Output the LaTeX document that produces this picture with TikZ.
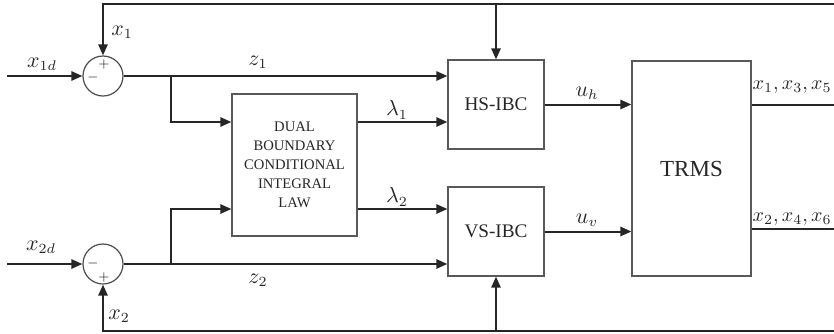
\documentclass[tikz,border=0pt]{standalone}
\usepackage{fontspec}
\setmainfont{Liberation Serif}
\usetikzlibrary{arrows.meta,calc}
\begin{document}
\begin{tikzpicture}[x=0.5pt,y=-0.5pt,
  line/.style={draw=black!85, line width=1pt},
  arr/.style={line, -{Triangle[length=5.5pt,width=4.6pt]}},
  blk/.style={draw=black!65, line width=0.6pt, inner sep=0pt, align=center, text=black!85},
  sumnode/.style={circle, draw=black!70, line width=0.6pt, minimum size=20pt, inner sep=0pt},
  lbl/.style={inner sep=0pt, font=\fontsize{10.5}{12}\selectfont, text=black!85},
  sgn/.style={inner sep=0pt, font=\fontsize{6}{7}\selectfont, text=black!85}]
\useasboundingbox (0,0) rectangle (834,333);
% nodes
\node[sumnode] (s1) at (103,76) {};
\node[sumnode] (s2) at (103,264) {};
\node[blk, minimum width=62.5pt, minimum height=71pt, font=\fontsize{7.3}{9.5}\selectfont] (dbc) at (294.5,165) {DUAL\\BOUNDARY\\CONDITIONAL\\INTEGRAL\\LAW};
\node[blk, minimum width=48pt, minimum height=44.5pt, font=\fontsize{9.6}{11}\selectfont] (hs) at (496,104.5) {HS-IBC};
\node[blk, minimum width=48pt, minimum height=44.5pt, font=\fontsize{9.6}{11}\selectfont] (vs) at (496,231.5) {VS-IBC};
\node[blk, minimum width=59.5pt, minimum height=107.5pt, font=\fontsize{11.5}{13}\selectfont] (trms) at (691.5,168.5) {TRMS};
% signs
\node[sgn] (p1) at (104,64) {$+$};
\node[sgn] (m1) at (93,77) {$-$};
\node[sgn] (m2) at (93,263) {$-$};
\node[sgn] (p2) at (104,277) {$+$};
% coordinates
\coordinate (in1) at (7,76);
\coordinate (in2) at (7,264);
\coordinate (ftop) at (834,4);
\coordinate (fbot) at (834,331);
\coordinate (o1) at (834,105);
\coordinate (o2) at (834,229);
\coordinate (b1) at (171,76);
\coordinate (b2) at (171,264);
\coordinate (d1) at ($(dbc.east)+(0,-43)$);
\coordinate (d2) at ($(dbc.east)+(0,44)$);
\coordinate (e1) at ($(dbc.west)+(0,-43)$);
\coordinate (e2) at ($(dbc.west)+(0,44)$);
% connectors
\draw[arr] (in1) -- (s1.west);
\draw[arr] (in2) -- (s2.west);
\draw[arr] (ftop) -| (s1.north);
\draw[arr] (ftop -| hs.north) -- (hs.north);
\draw[arr] (fbot) -| (s2.south);
\draw[arr] (fbot -| vs.south) -- (vs.south);
\draw[arr] (s1.east) -- (s1.east -| hs.west);
\draw[arr] (s2.east) -- (s2.east -| vs.west);
\draw[arr] (b1) |- (e1);
\draw[arr] (b2) |- (e2);
\draw[arr] (d1) -- (d1 -| hs.west);
\draw[arr] (d2) -- (d2 -| vs.west);
\draw[arr] (hs.east) -- (hs.east -| trms.west);
\draw[arr] (vs.east) -- (vs.east -| trms.west);
\draw[line] (trms.east |- o1) -- (o1);
\draw[line] (trms.east |- o2) -- (o2);
% labels
\node[lbl] (lx1d) at (42,64) {$x_{1d}$};
\node[lbl] (lx1) at (122,32) {$x_1$};
\node[lbl] (lz1) at (258,62) {$z_1$};
\node[lbl] (ll1) at (397,110) {$\lambda_1$};
\node[lbl] (ll2) at (397,197) {$\lambda_2$};
\node[lbl] (luh) at (587,93) {$u_h$};
\node[lbl] (luv) at (587,220) {$u_v$};
\node[lbl, anchor=east, font=\fontsize{9.8}{11}\selectfont] (lo1) at (832,87) {$x_1,x_3,x_5$};
\node[lbl, anchor=east, font=\fontsize{9.8}{11}\selectfont] (lo2) at (832,219) {$x_2,x_4,x_6$};
\node[lbl] (lx2d) at (41,247) {$x_{2d}$};
\node[lbl] (lz2) at (258,280) {$z_2$};
\node[lbl] (lx2) at (119,316) {$x_2$};
\end{tikzpicture}
\end{document}
